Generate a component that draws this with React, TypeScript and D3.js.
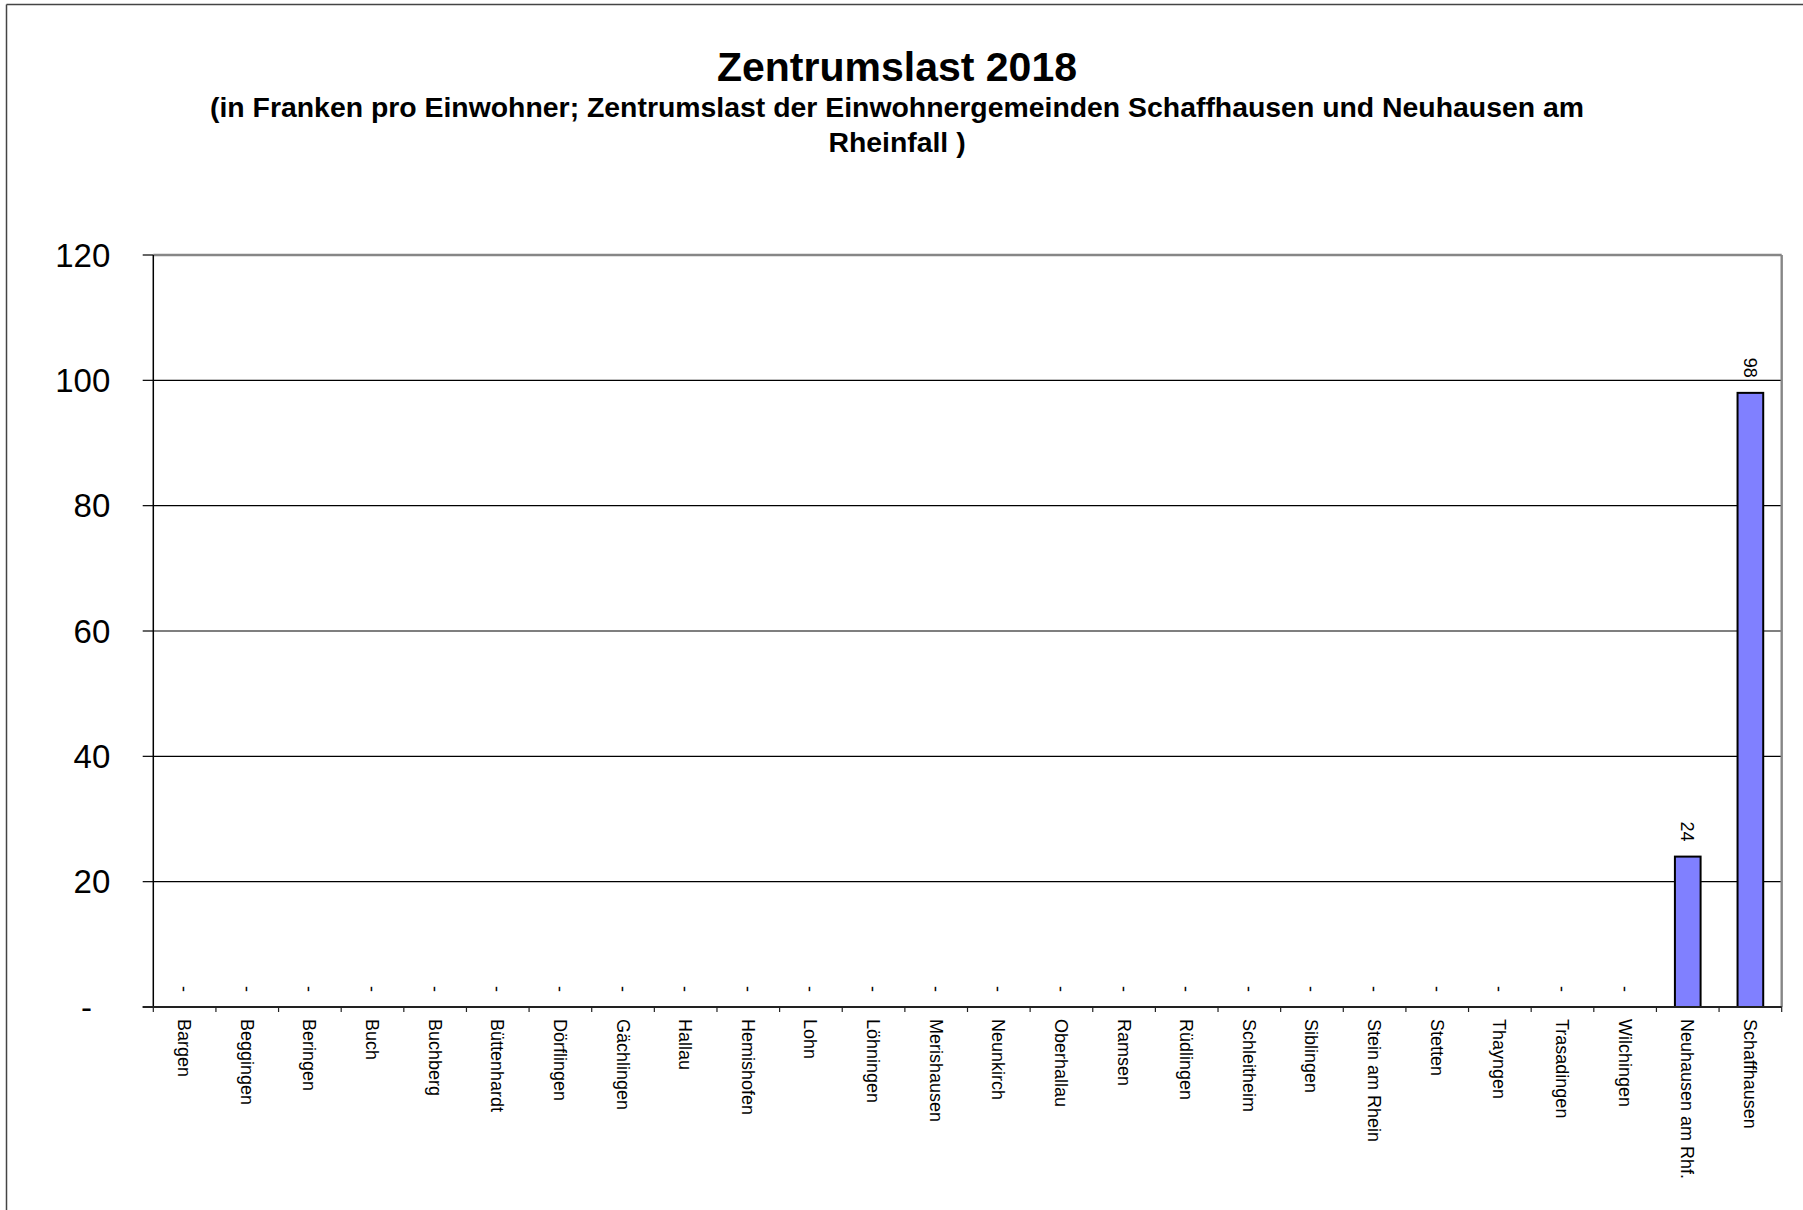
import React from "react";
import * as d3 from "d3";

const categories = [
  "Bargen", "Beggingen", "Beringen", "Buch", "Buchberg", "Büttenhardt",
  "Dörflingen", "Gächlingen", "Hallau", "Hemishofen", "Lohn", "Löhningen",
  "Merishausen", "Neunkirch", "Oberhallau", "Ramsen", "Rüdlingen",
  "Schleitheim", "Siblingen", "Stein am Rhein", "Stetten", "Thayngen",
  "Trasadingen", "Wilchingen", "Neuhausen am Rhf.", "Schaffhausen",
];
const values = [0, 0, 0, 0, 0, 0, 0, 0, 0, 0, 0, 0, 0, 0, 0, 0, 0, 0, 0, 0, 0, 0, 0, 0, 24, 98];
const yTicks = [0, 20, 40, 60, 80, 100, 120];
const title = "Zentrumslast 2018";
const subtitleLines = [
  "(in Franken pro Einwohner; Zentrumslast der Einwohnergemeinden Schaffhausen und Neuhausen am",
  "Rheinfall )",
];

const W = 1803;
const H = 1210;
const FONT = "'Liberation Sans', Arial, Helvetica, sans-serif";

export default function App() {
  const left = 153.3;
  const right = 1781.7;
  const top = 255;
  const bottom = 1007;

  const x = d3.scaleBand<string>().domain(categories).range([left, right]).paddingInner(0).paddingOuter(0);
  const y = d3.scaleLinear().domain([0, 120]).range([bottom, top]);
  const bw = x.bandwidth();
  const barW = bw * 0.41;
  const fmt = (v: number) => (v === 0 ? "-" : d3.format("d")(v));
  const centerX = 897;

  return (
    <svg
      width={W}
      height={H}
      style={{ position: "absolute", left: 0, top: 0, background: "#fff" }}
      fontFamily={FONT}
    >
      <rect x={0} y={0} width={W} height={H} fill="#fff" />
      {/* outer chart frame (cropped) */}
      <line x1={6.5} y1={4.5} x2={W + 5} y2={4.5} stroke="#444" strokeWidth={1.5} />
      <line x1={6.5} y1={4.5} x2={6.5} y2={H + 5} stroke="#444" strokeWidth={1.5} />

      {/* title */}
      <text x={centerX} y={80.7} textAnchor="middle" fontSize={41} fontWeight="bold" fill="#000">
        {title}
      </text>
      {subtitleLines.map((s, i) => (
        <text key={i} x={centerX} y={117.3 + i * 34.3} textAnchor="middle" fontSize={28.4} fontWeight="bold" fill="#000">
          {s}
        </text>
      ))}

      {/* gridlines */}
      {yTicks.filter((t) => t > 0 && t < 120).map((t) => (
        <line key={"g" + t} x1={left} x2={right} y1={y(t)} y2={y(t)} stroke="#000" strokeWidth={1.2} />
      ))}
      {/* plot border top/right */}
      <line x1={left} x2={right} y1={top} y2={top} stroke="#868686" strokeWidth={2.4} />
      <line x1={right} x2={right} y1={top} y2={bottom} stroke="#868686" strokeWidth={2.4} />

      {/* y ticks and labels */}
      {yTicks.map((t) => (
        <g key={"y" + t}>
          <line x1={left - 10.6} x2={left} y1={y(t)} y2={y(t)} stroke="#000" strokeWidth={1.2} />
          <text
            x={t === 0 ? left - 43 - 18.4 : left - 43}
            y={y(t)}
            dy="0.35em"
            textAnchor="end"
            fontSize={33}
            fill="#000"
          >
            {fmt(t)}
          </text>
        </g>
      ))}

      {/* bars */}
      {categories.map((c, i) => {
        const v = values[i];
        if (v <= 0) return null;
        const cx = (x(c) as number) + bw / 2;
        return (
          <rect
            key={"b" + c}
            x={cx - barW / 2}
            y={y(v)}
            width={barW}
            height={y(0) - y(v)}
            fill="#8080FF"
            stroke="#000"
            strokeWidth={2}
          />
        );
      })}

      {/* data labels */}
      {categories.map((c, i) => {
        const v = values[i];
        const cx = (x(c) as number) + bw / 2;
        const ly = y(v) - 15;
        return (
          <text
            key={"l" + c}
            transform={`translate(${cx},${ly}) rotate(90)`}
            dy="0.36em"
            textAnchor="end"
            fontSize={18}
            fill="#000"
          >
            {fmt(v)}
          </text>
        );
      })}

      {/* axes */}
      <line x1={left} x2={left} y1={top} y2={bottom} stroke="#000" strokeWidth={1.5} />
      <line x1={left - 10.6} x2={right} y1={bottom} y2={bottom} stroke="#222" strokeWidth={2} />
      {categories.map((c) => (
        <line key={"t" + c} x1={x(c) as number} x2={x(c) as number} y1={bottom} y2={bottom + 5} stroke="#222" strokeWidth={1.2} />
      ))}
      <line x1={right} x2={right} y1={bottom} y2={bottom + 5} stroke="#222" strokeWidth={1.2} />

      {/* category labels */}
      {categories.map((c) => {
        const cx = (x(c) as number) + bw / 2;
        return (
          <text
            key={"c" + c}
            transform={`translate(${cx},${bottom + 12}) rotate(90)`}
            dy="0.36em"
            textAnchor="start"
            fontSize={18}
            fill="#000"
          >
            {c}
          </text>
        );
      })}
    </svg>
  );
}
